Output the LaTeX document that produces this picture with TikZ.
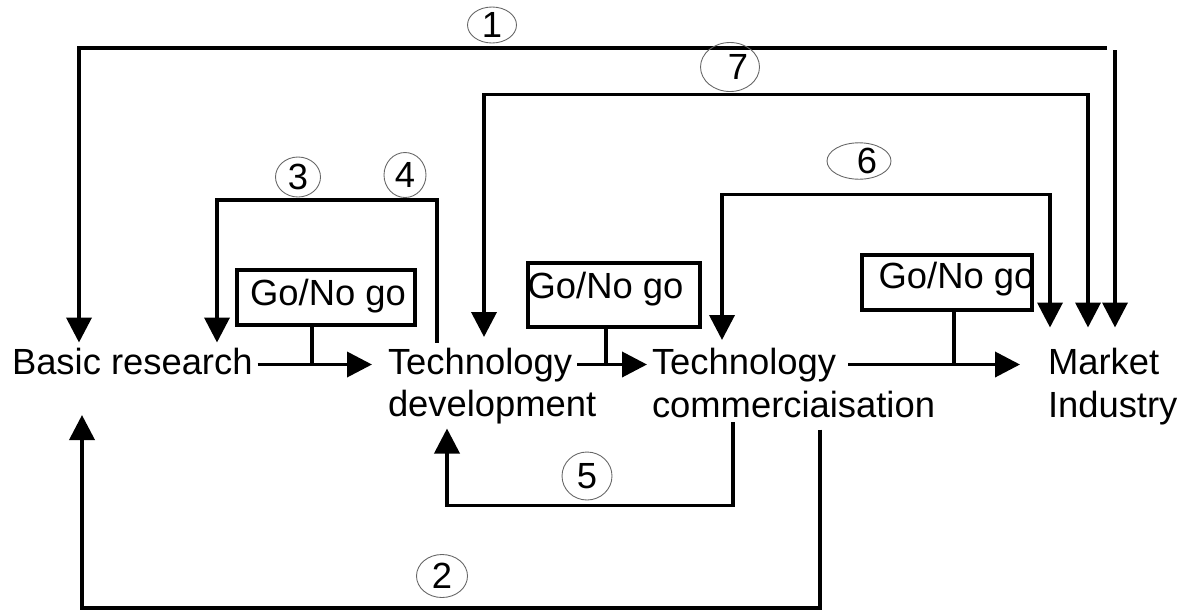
\documentclass[tikz,border=0pt]{standalone}
\usepackage{fontspec}
\setmainfont{Liberation Sans}
\usetikzlibrary{arrows.meta, shapes.geometric}

\begin{document}
\begin{tikzpicture}[x=0.2mm, y=-0.2mm,
		>={Triangle[length=5mm, width=5mm]},   % filled arrow tips
		font=\fontsize{20.7}{24}\selectfont,
		flow/.style={line width=0.75mm},
		lbl/.style={inner sep=0pt, outer sep=1mm, anchor=base west, text height=5.3mm, text depth=1.5mm},
		gobox/.style={draw, line width=0.7mm, inner sep=0pt, text height=5.3mm},
		num/.style={draw=black!60, line width=0.5pt, ellipse, inner sep=0pt}]
		\useasboundingbox (0,0) rectangle (1177,611);
		% stages
		\node[lbl] (bb) at (7,374) {Basic research};
		\node[lbl] (td) at (383,374) {Technology};
		\node[lbl] (tdl) at (383,416) {development};
		\node[lbl] (tc) at (647,374) {Technology};
		\node[lbl] (tcl) at (647,417) {commerciaisation};
		\node[lbl] (mk) at (1043,374) {Market};
		\node[lbl] (mkl) at (1043,417) {Industry};
		% decision boxes
		\node[gobox, minimum width=35.6mm, minimum height=11mm, text depth=2.3mm] (g1) at (326,297.5) {Go/No go\hspace*{-0.8mm}};
		\node[gobox, minimum width=34.4mm, minimum height=12.8mm, text depth=4.1mm] (g2) at (614,295) {\hspace*{-3.4mm}Go/No go};
		\node[gobox, minimum width=34mm, minimum height=11mm, text depth=3.1mm] (g3) at (947,282.5) {Go/No go\hspace*{-3.8mm}};
		% main flow
		\draw[flow,->, shorten >=2.2mm] (bb.east) -- (td.west);
		\draw[flow,->] (td.east) -- (tc.west);
		\draw[flow,->, shorten <=1.4mm, shorten >=4.6mm] (tc.east) -- (mk.west);
		\coordinate (s1) at ([xshift=-2.8mm]g1.south);
		\coordinate (s2) at ([xshift=-1.6mm]g2.south);
		\coordinate (s3) at ([xshift=1.4mm]g3.south);
		\draw[flow] (s1) -- (s1 |- bb.east);
		\draw[flow] (s2) -- (s2 |- td.east);
		\draw[flow] (s3) -- (s3 |- tc.east);
		% corner points of the feedback lines
		\coordinate (b1l) at (79,48);   \coordinate (b1r) at (1107,48);  \coordinate (b1m) at (1115,50);
		\coordinate (b7l) at (484,94.5); \coordinate (b7r) at (1088,94.5);
		\coordinate (b6l) at (722,194.5); \coordinate (b6r) at (1050,194.5);
		\coordinate (b3) at (217,200);  \coordinate (b4) at (437,200);
		\coordinate (b5l) at (447,505.5); \coordinate (b5r) at (733,505.5);
		\coordinate (b2l) at (82,608);  \coordinate (b2r) at (820,608);
		% feedback lines
		\draw[flow,->] (b1r) -- (b1l) -- (b1l |- bb.north);
		\draw[flow,->, shorten >=3mm] (b1m) -- (b1m |- mk.north);
		\draw[flow,<->, shorten <=1.1mm, shorten >=3mm] (b7l |- td.north) -- (b7l) -- (b7r) -- (b7r |- mk.north);
		\draw[flow,<->, shorten <=0.5mm, shorten >=3mm] (b6l |- tc.north) -- (b6l) -- (b6r) -- (b6r |- mk.north);
		\draw[flow,->] (b4 |- td.north) -- (b4) -- (b3) -- (b3 |- bb.north);
		\draw[flow,->, shorten <=-1.5mm] (b5r |- tcl.south) -- (b5r) -- (b5l) -- (b5l |- tdl.south);
		\draw[flow,->, shorten >=5.7mm] (b2r |- tcl.south) -- (b2r) -- (b2l) -- (b2l |- bb.south);
		% numbers
		\node[num, minimum width=9.8mm, minimum height=7.2mm] (n1) at (492,25) {1};
		\node[num, minimum width=10.2mm, minimum height=8.6mm] (n2) at (442,576) {2};
		\node[num, minimum width=9mm, minimum height=8mm] (n3) at (298,177) {3};
		\node[num, minimum width=8.4mm, minimum height=9mm] (n4) at (405,175) {4};
		\node[num, minimum width=10mm, minimum height=9.6mm] (n5) at (587,476) {5};
		\node[num, minimum width=12.8mm, minimum height=7mm] (n6) at (859,161) {6\hspace*{-3.2mm}};
		\node[num, minimum width=11.8mm, minimum height=9.8mm] (n7) at (730,67) {7\hspace*{-3.2mm}};
\end{tikzpicture}
\end{document}
